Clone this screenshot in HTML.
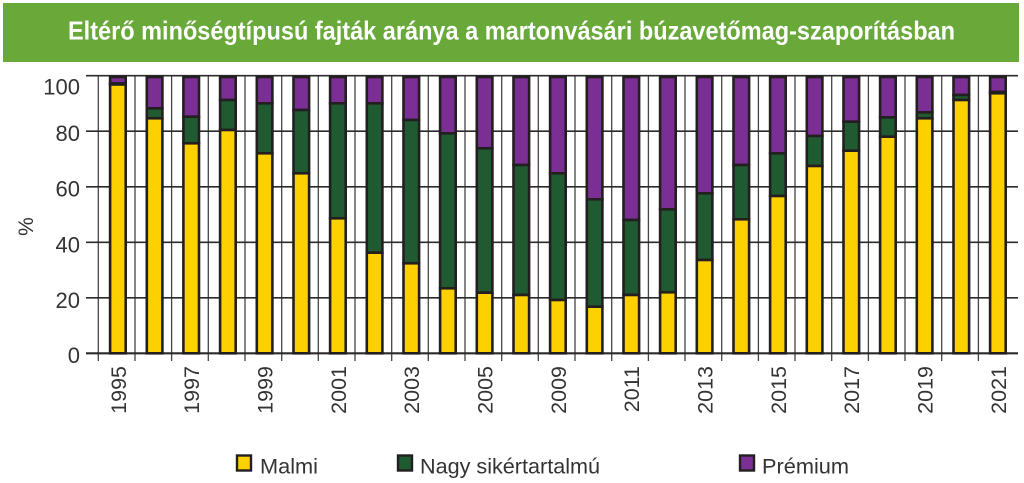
<!DOCTYPE html>
<html><head><meta charset="utf-8"><style>
html,body{margin:0;padding:0;background:#fff;}
svg{display:block;}
text{font-family:"Liberation Sans",sans-serif;}
</style></head><body>
<svg width="1024" height="483" viewBox="0 0 1024 483" xmlns="http://www.w3.org/2000/svg">
<rect x="0" y="0" width="1024" height="483" fill="#fff"/>
<rect x="3" y="3" width="1016" height="59" fill="#68a93a"/>
<text x="68" y="39.5" font-size="26" font-weight="bold" fill="#fff" textLength="887" lengthAdjust="spacingAndGlyphs">Eltérő minőségtípusú fajták aránya a martonvásári búzavetőmag-szaporításban</text>

<g stroke="#444" stroke-width="1.3">
<line x1="98.3" y1="75.7" x2="98.3" y2="361"/>
<line x1="135" y1="75.7" x2="135" y2="361"/>
<line x1="171.6" y1="75.7" x2="171.6" y2="361"/>
<line x1="208.3" y1="75.7" x2="208.3" y2="361"/>
<line x1="245" y1="75.7" x2="245" y2="361"/>
<line x1="281.7" y1="75.7" x2="281.7" y2="361"/>
<line x1="318.3" y1="75.7" x2="318.3" y2="361"/>
<line x1="355" y1="75.7" x2="355" y2="361"/>
<line x1="391.7" y1="75.7" x2="391.7" y2="361"/>
<line x1="428.3" y1="75.7" x2="428.3" y2="361"/>
<line x1="465" y1="75.7" x2="465" y2="361"/>
<line x1="501.7" y1="75.7" x2="501.7" y2="361"/>
<line x1="538.3" y1="75.7" x2="538.3" y2="361"/>
<line x1="575" y1="75.7" x2="575" y2="361"/>
<line x1="611.7" y1="75.7" x2="611.7" y2="361"/>
<line x1="648.4" y1="75.7" x2="648.4" y2="361"/>
<line x1="685" y1="75.7" x2="685" y2="361"/>
<line x1="721.7" y1="75.7" x2="721.7" y2="361"/>
<line x1="758.4" y1="75.7" x2="758.4" y2="361"/>
<line x1="795" y1="75.7" x2="795" y2="361"/>
<line x1="831.7" y1="75.7" x2="831.7" y2="361"/>
<line x1="868.4" y1="75.7" x2="868.4" y2="361"/>
<line x1="905" y1="75.7" x2="905" y2="361"/>
<line x1="941.7" y1="75.7" x2="941.7" y2="361"/>
<line x1="978.4" y1="75.7" x2="978.4" y2="361"/>
</g>
<g stroke="#2b2b2b" stroke-width="1.6">
<line x1="86" y1="75.7" x2="1018" y2="75.7"/>
<line x1="86" y1="131.2" x2="1018" y2="131.2"/>
<line x1="86" y1="186.8" x2="1018" y2="186.8"/>
<line x1="86" y1="242.3" x2="1018" y2="242.3"/>
<line x1="86" y1="297.8" x2="1018" y2="297.8"/>
<line x1="86" y1="353.3" x2="1018" y2="353.3" stroke-width="2.2"/>
</g>

<g stroke="#231f20" stroke-width="2.6">
<rect x="110.1" y="77" width="15.6" height="6.5" fill="#7b2f94"/>
<rect x="110.1" y="83.5" width="15.6" height="1" fill="#1f5a31"/>
<rect x="110.1" y="84.5" width="15.6" height="268.8" fill="#fdd000"/>
<rect x="146.8" y="77" width="15.6" height="31.3" fill="#7b2f94"/>
<rect x="146.8" y="108.3" width="15.6" height="10" fill="#1f5a31"/>
<rect x="146.8" y="118.3" width="15.6" height="235" fill="#fdd000"/>
<rect x="183.4" y="77" width="15.6" height="39.7" fill="#7b2f94"/>
<rect x="183.4" y="116.7" width="15.6" height="26.6" fill="#1f5a31"/>
<rect x="183.4" y="143.3" width="15.6" height="210" fill="#fdd000"/>
<rect x="220.1" y="77" width="15.6" height="23" fill="#7b2f94"/>
<rect x="220.1" y="100" width="15.6" height="30" fill="#1f5a31"/>
<rect x="220.1" y="130" width="15.6" height="223.3" fill="#fdd000"/>
<rect x="256.8" y="77" width="15.6" height="26.3" fill="#7b2f94"/>
<rect x="256.8" y="103.3" width="15.6" height="50" fill="#1f5a31"/>
<rect x="256.8" y="153.3" width="15.6" height="200" fill="#fdd000"/>
<rect x="293.5" y="77" width="15.6" height="33" fill="#7b2f94"/>
<rect x="293.5" y="110" width="15.6" height="63.3" fill="#1f5a31"/>
<rect x="293.5" y="173.3" width="15.6" height="180" fill="#fdd000"/>
<rect x="330.1" y="77" width="15.6" height="26.3" fill="#7b2f94"/>
<rect x="330.1" y="103.3" width="15.6" height="115" fill="#1f5a31"/>
<rect x="330.1" y="218.3" width="15.6" height="135" fill="#fdd000"/>
<rect x="366.8" y="77" width="15.6" height="26.3" fill="#7b2f94"/>
<rect x="366.8" y="103.3" width="15.6" height="149.4" fill="#1f5a31"/>
<rect x="366.8" y="252.7" width="15.6" height="100.6" fill="#fdd000"/>
<rect x="403.5" y="77" width="15.6" height="43" fill="#7b2f94"/>
<rect x="403.5" y="120" width="15.6" height="143.3" fill="#1f5a31"/>
<rect x="403.5" y="263.3" width="15.6" height="90" fill="#fdd000"/>
<rect x="440.1" y="77" width="15.6" height="56.3" fill="#7b2f94"/>
<rect x="440.1" y="133.3" width="15.6" height="155" fill="#1f5a31"/>
<rect x="440.1" y="288.3" width="15.6" height="65" fill="#fdd000"/>
<rect x="476.8" y="77" width="15.6" height="71.3" fill="#7b2f94"/>
<rect x="476.8" y="148.3" width="15.6" height="144.4" fill="#1f5a31"/>
<rect x="476.8" y="292.7" width="15.6" height="60.6" fill="#fdd000"/>
<rect x="513.5" y="77" width="15.6" height="88" fill="#7b2f94"/>
<rect x="513.5" y="165" width="15.6" height="130" fill="#1f5a31"/>
<rect x="513.5" y="295" width="15.6" height="58.3" fill="#fdd000"/>
<rect x="550.1" y="77" width="15.6" height="96.3" fill="#7b2f94"/>
<rect x="550.1" y="173.3" width="15.6" height="126.7" fill="#1f5a31"/>
<rect x="550.1" y="300" width="15.6" height="53.3" fill="#fdd000"/>
<rect x="586.8" y="77" width="15.6" height="122.3" fill="#7b2f94"/>
<rect x="586.8" y="199.3" width="15.6" height="107.4" fill="#1f5a31"/>
<rect x="586.8" y="306.7" width="15.6" height="46.6" fill="#fdd000"/>
<rect x="623.5" y="77" width="15.6" height="143" fill="#7b2f94"/>
<rect x="623.5" y="220" width="15.6" height="75" fill="#1f5a31"/>
<rect x="623.5" y="295" width="15.6" height="58.3" fill="#fdd000"/>
<rect x="660.1" y="77" width="15.6" height="132.3" fill="#7b2f94"/>
<rect x="660.1" y="209.3" width="15.6" height="83" fill="#1f5a31"/>
<rect x="660.1" y="292.3" width="15.6" height="61" fill="#fdd000"/>
<rect x="696.8" y="77" width="15.6" height="116.3" fill="#7b2f94"/>
<rect x="696.8" y="193.3" width="15.6" height="66.7" fill="#1f5a31"/>
<rect x="696.8" y="260" width="15.6" height="93.3" fill="#fdd000"/>
<rect x="733.5" y="77" width="15.6" height="88" fill="#7b2f94"/>
<rect x="733.5" y="165" width="15.6" height="54.3" fill="#1f5a31"/>
<rect x="733.5" y="219.3" width="15.6" height="134" fill="#fdd000"/>
<rect x="770.1" y="77" width="15.6" height="76.3" fill="#7b2f94"/>
<rect x="770.1" y="153.3" width="15.6" height="42.7" fill="#1f5a31"/>
<rect x="770.1" y="196" width="15.6" height="157.3" fill="#fdd000"/>
<rect x="806.8" y="77" width="15.6" height="59" fill="#7b2f94"/>
<rect x="806.8" y="136" width="15.6" height="30" fill="#1f5a31"/>
<rect x="806.8" y="166" width="15.6" height="187.3" fill="#fdd000"/>
<rect x="843.5" y="77" width="15.6" height="44.7" fill="#7b2f94"/>
<rect x="843.5" y="121.7" width="15.6" height="29" fill="#1f5a31"/>
<rect x="843.5" y="150.7" width="15.6" height="202.6" fill="#fdd000"/>
<rect x="880.1" y="77" width="15.6" height="40.3" fill="#7b2f94"/>
<rect x="880.1" y="117.3" width="15.6" height="19.4" fill="#1f5a31"/>
<rect x="880.1" y="136.7" width="15.6" height="216.6" fill="#fdd000"/>
<rect x="916.8" y="77" width="15.6" height="35.3" fill="#7b2f94"/>
<rect x="916.8" y="112.3" width="15.6" height="6" fill="#1f5a31"/>
<rect x="916.8" y="118.3" width="15.6" height="235" fill="#fdd000"/>
<rect x="953.5" y="77" width="15.6" height="18" fill="#7b2f94"/>
<rect x="953.5" y="95" width="15.6" height="5" fill="#1f5a31"/>
<rect x="953.5" y="100" width="15.6" height="253.3" fill="#fdd000"/>
<rect x="990.1" y="77" width="15.6" height="15" fill="#7b2f94"/>
<rect x="990.1" y="92" width="15.6" height="1.3" fill="#1f5a31"/>
<rect x="990.1" y="93.3" width="15.6" height="260" fill="#fdd000"/>
</g>

<g font-size="22" fill="#333" text-anchor="end">
<text x="80" y="94.5">100</text>
<text x="80" y="141">80</text>
<text x="80" y="196.5">60</text>
<text x="80" y="252.5">40</text>
<text x="80" y="308">20</text>
<text x="80" y="363">0</text>
</g>
<text transform="translate(33,226.5) rotate(-90)" font-size="21" fill="#333" text-anchor="middle">%</text>

<g font-size="21.5" fill="#333" text-anchor="end">
<text transform="translate(125.8,366) rotate(-90)">1995</text>
<text transform="translate(199.1,366) rotate(-90)">1997</text>
<text transform="translate(272.5,366) rotate(-90)">1999</text>
<text transform="translate(345.8,366) rotate(-90)">2001</text>
<text transform="translate(419.2,366) rotate(-90)">2003</text>
<text transform="translate(492.5,366) rotate(-90)">2005</text>
<text transform="translate(565.8,366) rotate(-90)">2009</text>
<text transform="translate(639.2,366) rotate(-90)">2011</text>
<text transform="translate(712.5,366) rotate(-90)">2013</text>
<text transform="translate(785.8,366) rotate(-90)">2015</text>
<text transform="translate(859.2,366) rotate(-90)">2017</text>
<text transform="translate(932.5,366) rotate(-90)">2019</text>
<text transform="translate(1005.8,366) rotate(-90)">2021</text>
</g>

<g stroke="#231f20" stroke-width="2.4">
<rect x="237" y="455.5" width="14" height="15" fill="#fdd000"/>
<rect x="398" y="455.5" width="14" height="15" fill="#1f5a31"/>
<rect x="740" y="455.5" width="14" height="15" fill="#7b2f94"/>
</g>
<g font-size="21" fill="#333">
<text x="260" y="473.3" textLength="58" lengthAdjust="spacingAndGlyphs">Malmi</text>
<text x="420" y="473.3" textLength="180" lengthAdjust="spacingAndGlyphs">Nagy sikértartalmú</text>
<text x="762" y="473.3" textLength="87" lengthAdjust="spacingAndGlyphs">Prémium</text>
</g>
</svg>
</body></html>
